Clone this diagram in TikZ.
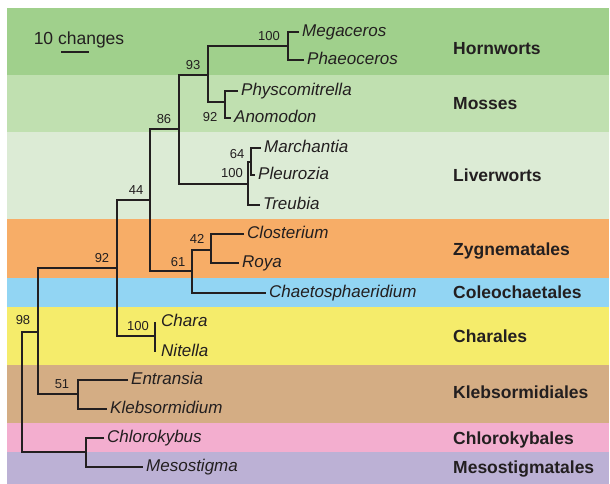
\documentclass[tikz,border=0pt]{standalone}
\usepackage{fontspec}
\setmainfont{Liberation Sans}

\definecolor{treec}{HTML}{231F20}
\definecolor{hornc}{HTML}{A0D08C}
\definecolor{mossc}{HTML}{C0E0B0}
\definecolor{livc}{HTML}{DCEBD5}
\definecolor{zygc}{HTML}{F7AD67}
\definecolor{coleoc}{HTML}{92D5F3}
\definecolor{charc}{HTML}{F5EC6B}
\definecolor{klebc}{HTML}{D4AD84}
\definecolor{chlorc}{HTML}{F3AECF}
\definecolor{mesoc}{HTML}{BCB1D5}

\begin{document}
\begin{tikzpicture}[x=1pt, y=-1pt,
    branch/.style={draw=treec, line width=1.8pt},
    taxon/.style={anchor=west, inner xsep=3pt, inner ysep=0pt, text height=13pt, text depth=3.4pt,
        text=treec, font=\fontsize{17}{20}\selectfont\itshape},
    group/.style={anchor=west, inner sep=0pt, text height=12.6pt, text depth=0pt,
        text=treec, font=\fontsize{17.5}{20}\selectfont\bfseries},
    boot/.style={inner sep=0pt, text=treec, font=\fontsize{13}{15}\selectfont}]
    \useasboundingbox (0,0) rectangle (610,484);

    % Bands
    \fill[hornc] (7,8) rectangle (609,75);
    \fill[mossc] (7,75) rectangle (609,132);
    \fill[livc] (7,132) rectangle (609,219);
    \fill[zygc] (7,219) rectangle (609,278);
    \fill[coleoc] (7,278) rectangle (609,307);
    \fill[charc] (7,307) rectangle (609,365);
    \fill[klebc] (7,365) rectangle (609,423);
    \fill[chlorc] (7,423) rectangle (609,452);
    \fill[mesoc] (7,452) rectangle (609,484);

    % Group labels
    \node[group] (gHorn) at (453,48) {Hornworts};
    \node[group] (gMoss) at (453,103) {Mosses};
    \node[group] (gLiv) at (453,175) {Liverworts};
    \node[group] (gZyg) at (453,249) {Zygnematales};
    \node[group] (gColeo) at (453,292) {Coleochaetales};
    \node[group] (gChar) at (453,336) {Charales};
    \node[group] (gKleb) at (453,392) {Klebsormidiales};
    \node[group] (gChlor) at (453,438) {Chlorokybales};
    \node[group] (gMeso) at (453,467) {Mesostigmatales};

    % Scale bar
    \node[inner sep=0pt, text height=12.6pt, text depth=0pt, text=treec,
        font=\fontsize{17.5}{20}\selectfont] (scl) at (79,38) {10 changes};
    \coordinate (sbl) at (61,52);
    \coordinate (sbr) at (89,52);
    \draw[branch] (sbl) -- (sbr);

    % Taxa
    \node[taxon] (mega) at (299,32) {Megaceros};
    \node[taxon] (phae) at (304,60) {Phaeoceros};
    \node[taxon] (phys) at (238,91) {Physcomitrella};
    \node[taxon] (anom) at (231,118) {Anomodon};
    \node[taxon] (march) at (261,148) {Marchantia};
    \node[taxon] (pleu) at (255,175) {Pleurozia};
    \node[taxon] (treu) at (260,205) {Treubia};
    \node[taxon] (clos) at (244,234) {Closterium};
    \node[taxon] (roya) at (239,263) {Roya};
    \node[taxon] (chaet) at (266,293) {Chaetosphaeridium};
    \node[taxon, inner xsep=6pt] (chara) at (155,322) {Chara};
    \node[taxon, inner xsep=6pt] (nite) at (155,352) {Nitella};
    \node[taxon] (entr) at (128,380) {Entransia};
    \node[taxon] (kleb) at (107,409) {Klebsormidium};
    \node[taxon] (chlo) at (104,438) {Chlorokybus};
    \node[taxon] (meso) at (143,467) {Mesostigma};

    % Internal nodes
    \coordinate (nHorn) at (288,46);
    \coordinate (nMoss) at (225,102);
    \coordinate (n93) at (208,75);
    \coordinate (nMP) at (251,162);
    \coordinate (nLiv) at (248,184);
    \coordinate (n86) at (179,129);
    \coordinate (nCR) at (211,250);
    \coordinate (n61) at (192,271);
    \coordinate (n44) at (150,200);
    \coordinate (nCN) at (155,336);
    \coordinate (n92) at (117,268);
    \coordinate (nKleb) at (78,394);
    \coordinate (n98) at (38,332);
    \coordinate (nCM) at (86,452);
    \coordinate (root) at (22,400);

    % Branches
    \draw[branch] (mega.west) -| (nHorn) |- (phae.west);
    \draw[branch] (phys.west) -| (nMoss) |- (anom.west);
    \draw[branch] (nHorn) -| (n93) |- (nMoss);
    \draw[branch] (march.west) -| (nMP) |- (pleu.west);
    \draw[branch] (nMP) -| (nLiv) |- (treu.west);
    \draw[branch] (n93) -| (n86) |- (nLiv);
    \draw[branch] (clos.west) -| (nCR) |- (roya.west);
    \draw[branch] (nCR) -| (n61) |- (chaet.west);
    \draw[branch] (n86) -| (n44) |- (n61);
    \draw[branch] (chara.west) -| (nCN) |- (nite.west);
    \draw[branch] (n44) -| (n92) |- (nCN);
    \draw[branch] (entr.west) -| (nKleb) |- (kleb.west);
    \draw[branch] (n92) -| (n98) |- (nKleb);
    \draw[branch] (chlo.west) -| (nCM) |- (meso.west);
    \draw[branch] (n98) -| (root) |- (nCM);

    % Bootstrap values
    \node[boot] (bHorn) at (269,36) {100};
    \node[boot] (b93) at (193,65) {93};
    \node[boot] (bMoss) at (210,117) {92};
    \node[boot] (b86) at (164,119) {86};
    \node[boot] (bMP) at (237,154) {64};
    \node[boot] (bLiv) at (232,173) {100};
    \node[boot] (b44) at (136,190) {44};
    \node[boot] (b92) at (102,258) {92};
    \node[boot] (bCR) at (197,239) {42};
    \node[boot] (b61) at (178,262) {61};
    \node[boot] (bCN) at (138,326) {100};
    \node[boot] (bKleb) at (62,384) {51};
    \node[boot] (b98) at (23,320) {98};
\end{tikzpicture}
\end{document}
